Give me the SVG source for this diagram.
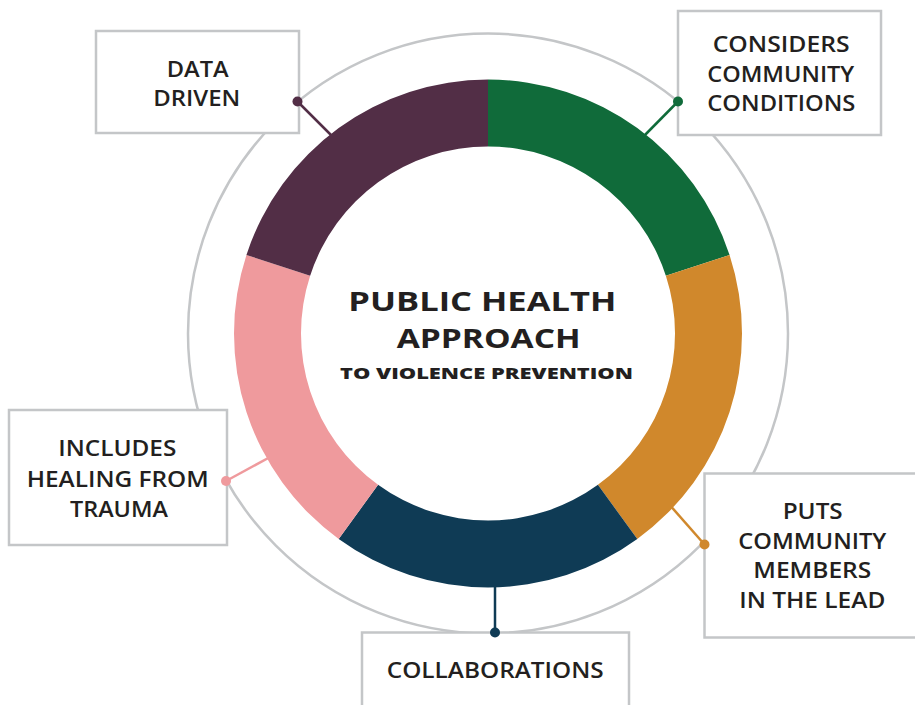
<svg xmlns="http://www.w3.org/2000/svg" width="915" height="705" viewBox="0 0 915 705">
<style>
.box{fill:#fff;stroke:#c4c6c8;stroke-width:2.5}
.lbl{font-family:"Open Sans","Liberation Sans",sans-serif;font-weight:600;font-size:22px;fill:#231f20}
.ttl{font-family:"Open Sans","Liberation Sans",sans-serif;font-weight:700;font-size:26.5px;fill:#231f20}
.sub{font-family:"Open Sans","Liberation Sans",sans-serif;font-weight:800;font-size:16.5px;fill:#231f20}
.ring{fill:none;stroke:#c4c6c8;stroke-width:2.5}
</style>
<rect width="915" height="705" fill="#fff"/>
<circle class="ring" cx="488" cy="333.5" r="300"/>
<g id="node-data">
<rect class="box" x="96" y="31" width="203" height="102"/>
<text class="lbl" x="166.7" y="76.5" textLength="62" lengthAdjust="spacingAndGlyphs">DATA</text>
<text class="lbl" x="153.3" y="105.5" textLength="87" lengthAdjust="spacingAndGlyphs">DRIVEN</text>
</g>
<g id="node-considers">
<rect class="box" x="678" y="11" width="203" height="124"/>
<text class="lbl" x="712.7" y="51.5" textLength="137" lengthAdjust="spacingAndGlyphs">CONSIDERS</text>
<text class="lbl" x="707.3" y="81.5" textLength="147" lengthAdjust="spacingAndGlyphs">COMMUNITY</text>
<text class="lbl" x="707.3" y="110.5" textLength="148" lengthAdjust="spacingAndGlyphs">CONDITIONS</text>
</g>
<g id="node-healing">
<rect class="box" x="9" y="410" width="218" height="135"/>
<text class="lbl" x="58.3" y="456" textLength="118" lengthAdjust="spacingAndGlyphs">INCLUDES</text>
<text class="lbl" x="26.7" y="487" textLength="182" lengthAdjust="spacingAndGlyphs">HEALING FROM</text>
<text class="lbl" x="70" y="516.5" textLength="98" lengthAdjust="spacingAndGlyphs">TRAUMA</text>
</g>
<g id="node-puts">
<rect class="box" x="704.5" y="473.5" width="216" height="164"/>
<text class="lbl" x="782.7" y="518.5" textLength="60" lengthAdjust="spacingAndGlyphs">PUTS</text>
<text class="lbl" x="738.3" y="548.5" textLength="148" lengthAdjust="spacingAndGlyphs">COMMUNITY</text>
<text class="lbl" x="753.3" y="578" textLength="118" lengthAdjust="spacingAndGlyphs">MEMBERS</text>
<text class="lbl" x="739.3" y="608" textLength="146" lengthAdjust="spacingAndGlyphs">IN THE LEAD</text>
</g>
<g id="node-collab">
<rect class="box" x="362" y="632.5" width="267" height="90"/>
<text class="lbl" x="386.7" y="678" textLength="217" lengthAdjust="spacingAndGlyphs">COLLABORATIONS</text>
</g>
<g id="connectors" stroke-width="2.5">
<line x1="297.5" y1="101.5" x2="336" y2="140" stroke="#522e46"/>
<line x1="678" y1="101.5" x2="640" y2="140" stroke="#106b3a"/>
<line x1="704.5" y1="544.5" x2="668" y2="503" stroke="#d0882c"/>
<line x1="495" y1="632.5" x2="495" y2="580" stroke="#0f3b55"/>
<line x1="226" y1="481" x2="272" y2="456" stroke="#ef9a9d"/>
<circle cx="297.5" cy="101.5" r="5" fill="#522e46"/>
<circle cx="678" cy="101.5" r="5" fill="#106b3a"/>
<circle cx="704.5" cy="544.5" r="5" fill="#d0882c"/>
<circle cx="495" cy="632.5" r="5" fill="#0f3b55"/>
<circle cx="226" cy="481" r="5" fill="#ef9a9d"/>
</g>
<g id="node-center">
<path d="M488,79.5 A254,254 0 0 1 729.57,255.01 L665.85,275.71 A187,187 0 0 0 488,146.5 Z" fill="#106b3a"/>
<path d="M729.57,255.01 A254,254 0 0 1 637.3,538.99 L597.92,484.79 A187,187 0 0 0 665.85,275.71 Z" fill="#d0882c"/>
<path d="M637.3,538.99 A254,254 0 0 1 338.7,538.99 L378.08,484.79 A187,187 0 0 0 597.92,484.79 Z" fill="#0f3b55"/>
<path d="M338.7,538.99 A254,254 0 0 1 246.43,255.01 L310.15,275.71 A187,187 0 0 0 378.08,484.79 Z" fill="#ef9a9d"/>
<path d="M246.43,255.01 A254,254 0 0 1 488,79.5 L488,146.5 A187,187 0 0 0 310.15,275.71 Z" fill="#522e46"/>
<text class="ttl" x="348.3" y="310.5" textLength="268" lengthAdjust="spacingAndGlyphs">PUBLIC HEALTH</text>
<text class="ttl" x="396.7" y="348" textLength="184" lengthAdjust="spacingAndGlyphs">APPROACH</text>
<text class="sub" x="340" y="378.5" textLength="293" lengthAdjust="spacingAndGlyphs">TO VIOLENCE PREVENTION</text>
</g>
</svg>
